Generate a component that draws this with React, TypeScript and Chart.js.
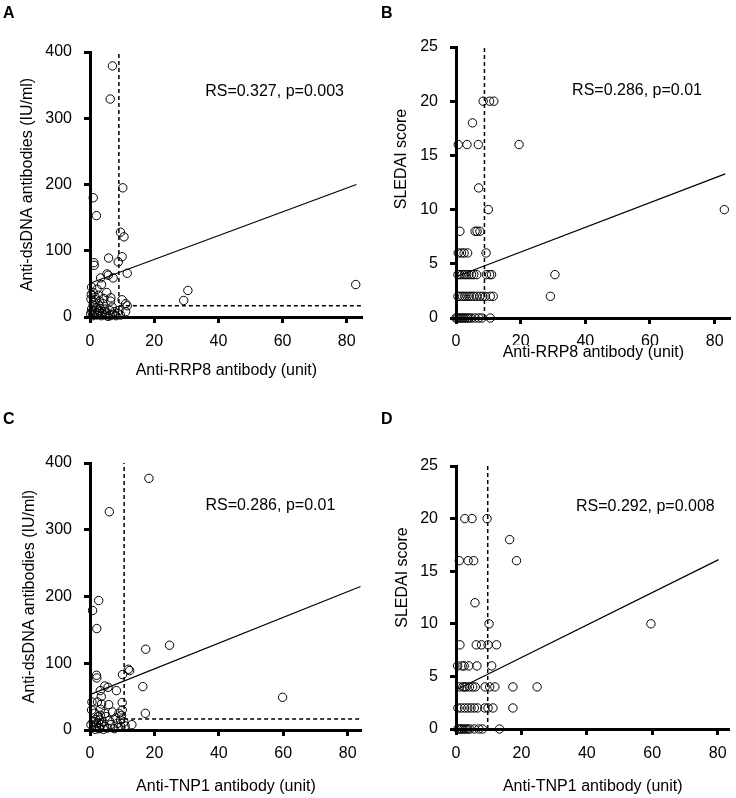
import React, { useEffect, useRef } from 'react';
import { Chart, registerables } from 'chart.js';

Chart.register(...registerables);

const FONT = '"Liberation Sans", Arial, Helvetica, sans-serif';

// ---------- Panel A: Anti-RRP8 vs Anti-dsDNA ----------
const aRRP8 = [7.0, 6.3, 1.0, 2.0, 10.2, 9.5, 10.6, 1.2, 1.3, 5.8, 10.0, 8.8, 11.6, 5.3, 5.7, 7.2, 3.3, 3.6, 5.2, 6.5, 6.4, 2.2, 10.0, 11.1, 11.6, 11.1, 29.2, 30.5, 82.8, 8.8, 0.5, 1.0, 1.6, 0.3, 2.6, 3.0, 4.1, 1.0, 2.0, 0.5, 1.5, 3.0, 4.6, 5.1, 6.1, 7.1, 2.1, 0.8, 3.5, 5.6, 8.1, 9.5, 0.2, 1.2, 2.8, 4.3, 6.9, 7.6, 3.8, 0.6, 2.4, 4.9, 6.3, 9.0, 1.8, 0.4, 3.2, 4.5, 2.7, 1.4];
const aDsDNA = [379, 329, 180, 153, 195, 128, 121, 82, 78, 89, 91, 83, 66, 65, 63, 59, 59, 49, 37, 29, 24, 42, 26, 20, 17, 8, 25, 40, 49, 5, 45, 37, 30, 27, 33, 24, 20, 18, 14, 12, 9, 8, 12, 6, 10, 4, 3, 2, 2, 1, 2, 3, 5, 22, 17, 28, 15, 8, 5, 8, 6, 3, 2, 10, 26, 34, 13, 8, 10, 4];
const aFitX = [0, 83];
const aFitY = [51, 200];
const aCut = [9.0, 17];

// ---------- Panel B: Anti-RRP8 vs SLEDAI ----------
const bRRP8 = [8.4, 10.4, 11.7, 5.1, 0.7, 3.4, 6.9, 19.5, 7.0, 10.0, 83.0, 1.2, 5.9, 6.5, 7.4, 0.7, 1.7, 2.5, 3.6, 9.3, 0.6, 1.2, 1.9, 2.6, 3.3, 4.0, 4.8, 5.5, 6.4, 9.4, 10.4, 11.0, 30.6, 0.6, 1.3, 2.0, 2.7, 3.4, 4.1, 4.8, 5.5, 6.4, 7.4, 8.3, 9.1, 10.6, 11.5, 29.2, 0, 0.4, 0.9, 1.4, 1.9, 2.4, 2.9, 3.5, 4.1, 4.8, 5.9, 7.0, 8.0, 10.6];
const bSLEDAI = [20, 20, 20, 18, 16, 16, 16, 16, 12, 10, 10, 8, 8, 8, 8, 6, 6, 6, 6, 6, 4, 4, 4, 4, 4, 4, 4, 4, 4, 4, 4, 4, 4, 2, 2, 2, 2, 2, 2, 2, 2, 2, 2, 2, 2, 2, 2, 2, 0, 0, 0, 0, 0, 0, 0, 0, 0, 0, 0, 0, 0, 0];
const bFitX = [0, 83.3];
const bFitY = [3.8, 13.3];
const bCut = [8.8];

// ---------- Panel C: Anti-TNP1 vs Anti-dsDNA ----------
const cTNP1 = [18.3, 6.0, 0.8, 2.7, 2.1, 17.3, 24.7, 11.9, 12.3, 10.1, 2.0, 2.1, 16.4, 59.8, 17.2, 8.2, 4.6, 5.6, 3.5, 3.2, 5.8, 2.3, 0.6, 10.0, 10.0, 3.6, 4.6, 3.3, 13.0, 10.9, 0.5, 1.5, 2.5, 3.0, 2.0, 1.0, 3.5, 4.5, 5.5, 6.5, 7.5, 8.5, 9.5, 9.8, 9.0, 8.0, 1.2, 2.8, 0.3, 4.0, 6.0, 3.0, 2.0, 5.0, 7.0, 9.6, 10.5, 8.8, 4.2, 1.8, 2.6, 3.2, 1.6];
const cDsDNA = [377, 327, 179, 194, 152, 121, 127, 91, 89, 83, 82, 78, 65, 49, 25, 59, 66, 64, 50, 59, 38, 42, 42, 41, 30, 39, 25, 31, 8, 6, 30, 25, 20, 15, 10, 12, 8, 5, 3, 8, 2, 10, 15, 22, 25, 18, 4, 2, 8, 12, 14, 3, 6, 20, 27, 5, 12, 4, 1, 16, 11, 22, 1];
const cFitX = [0, 84];
const cFitY = [53, 215];
const cCut = [10.6, 16.5];

// ---------- Panel D: Anti-TNP1 vs SLEDAI ----------
const dTNP1 = [2.7, 4.9, 9.5, 16.4, 1.0, 3.7, 5.4, 18.5, 5.8, 10.1, 59.6, 1.2, 6.2, 7.8, 9.8, 12.4, 0.5, 1.9, 2.5, 3.9, 6.4, 10.9, 1.1, 2.1, 2.6, 3.1, 4.1, 5.1, 5.9, 8.9, 10.3, 11.9, 17.4, 24.8, 0.6, 1.6, 2.6, 3.6, 4.6, 5.6, 6.6, 8.8, 9.8, 11.3, 17.4, 0.6, 1.2, 1.8, 2.4, 3.0, 3.6, 4.2, 5.6, 7.0, 8.1, 13.3];
const dSLEDAI = [20, 20, 20, 18, 16, 16, 16, 16, 12, 10, 10, 8, 8, 8, 8, 8, 6, 6, 6, 6, 6, 6, 4, 4, 4, 4, 4, 4, 4, 4, 4, 4, 4, 4, 2, 2, 2, 2, 2, 2, 2, 2, 2, 2, 2, 0, 0, 0, 0, 0, 0, 0, 0, 0, 0, 0];
const dFitX = [0, 80.3];
const dFitY = [3.7, 16.1];
const dCut = [9.7];

const xTicks = [0, 20, 40, 60, 80];
const dsdnaTicks = [0, 100, 200, 300, 400];
const sledaiTicks = [0, 5, 10, 15, 20, 25];

const xLabelRRP8 = 'Anti-RRP8 antibody (unit)';
const xLabelTNP1 = 'Anti-TNP1 antibody (unit)';
const yLabelDsDNA = 'Anti-dsDNA antibodies (IU/ml)';
const yLabelSLEDAI = 'SLEDAI score';

type Panel = {
  letter: string;
  xs: number[];
  ys: number[];
  fitX: number[];
  fitY: number[];
  cut: number[];
  stat: string;
  statAt: number[];
  xTitle: string;
  yTitle: string;
  yTicks: number[];
  xMax: number;
  left: number;
  top: number;
  w: number;
  h: number;
  yAxisW: number;
  padTop: number;
  padRight: number;
  xAxisH: number;
  xTickPad: number;
  xTitlePadBottom: number;
  yTitlePadTop: number;
  customYTitle?: number[];
  customXTitleY?: number;
  letterPos: number[];
};

const panels: Panel[] = [
  {
    letter: 'A', xs: aRRP8, ys: aDsDNA, fitX: aFitX, fitY: aFitY, cut: aCut,
    stat: 'RS=0.327, p=0.003', statAt: [57.5, 340],
    xTitle: xLabelRRP8, yTitle: yLabelDsDNA, yTicks: dsdnaTicks, xMax: 85,
    left: 0, top: 0, w: 368, h: 400, yAxisW: 90, padTop: 52, padRight: 4, xAxisH: 83,
    xTickPad: 9, xTitlePadBottom: 20, yTitlePadTop: 18, letterPos: [3, 18],
  },
  {
    letter: 'B', xs: bRRP8, ys: bSLEDAI, fitX: bFitX, fitY: bFitY, cut: bCut,
    stat: 'RS=0.286, p=0.01', statAt: [56, 21],
    xTitle: xLabelRRP8, yTitle: yLabelSLEDAI, yTicks: sledaiTicks, xMax: 85,
    left: 368, top: 0, w: 368, h: 400, yAxisW: 88, padTop: 47, padRight: 5, xAxisH: 82,
    xTickPad: 8, xTitlePadBottom: 38, yTitlePadTop: 18, customYTitle: [34, 159], customXTitleY: 353,
    letterPos: [13, 18],
  },
  {
    letter: 'C', xs: cTNP1, ys: cDsDNA, fitX: cFitX, fitY: cFitY, cut: cCut,
    stat: 'RS=0.286, p=0.01', statAt: [56, 336],
    xTitle: xLabelTNP1, yTitle: yLabelDsDNA, yTicks: dsdnaTicks, xMax: 84.4,
    left: 0, top: 400, w: 368, h: 398, yAxisW: 90, padTop: 63, padRight: 6.2, xAxisH: 68,
    xTickPad: 8, xTitlePadBottom: 1.4, yTitlePadTop: 20, letterPos: [3, 24],
  },
  {
    letter: 'D', xs: dTNP1, ys: dSLEDAI, fitX: dFitX, fitY: dFitY, cut: dCut,
    stat: 'RS=0.292, p=0.008', statAt: [57.9, 21.1],
    xTitle: xLabelTNP1, yTitle: yLabelSLEDAI, yTicks: sledaiTicks, xMax: 83.6,
    left: 368, top: 400, w: 368, h: 398, yAxisW: 88, padTop: 66, padRight: 6.6, xAxisH: 69,
    xTickPad: 9, xTitlePadBottom: 1.4, yTitlePadTop: 20, customYTitle: [35, 177.5], letterPos: [13, 24],
  },
];

const textPlugin = {
  id: 'panelText',
  afterDraw(chart: any, _args: any, opts: any) {
    const ctx = chart.ctx;
    const xs = chart.scales.x;
    const ys = chart.scales.y;
    const area = chart.chartArea;
    ctx.save();
    ctx.fillStyle = '#000';
    ctx.font = `bold 16px ${FONT}`;
    ctx.textAlign = 'left';
    ctx.textBaseline = 'alphabetic';
    ctx.fillText(opts.letter, opts.letterPos[0], opts.letterPos[1]);
    ctx.font = `16px ${FONT}`;
    ctx.textAlign = 'center';
    ctx.textBaseline = 'middle';
    ctx.fillText(opts.stat, xs.getPixelForValue(opts.statAt[0]), ys.getPixelForValue(opts.statAt[1]));
    if (opts.customXTitleY !== undefined) {
      const cx = (area.left + area.right) / 2;
      const w = ctx.measureText(opts.xTitle).width;
      ctx.fillStyle = '#fff';
      ctx.fillRect(cx - w / 2 - 3, opts.customXTitleY - 8, w + 6, 18);
      ctx.fillStyle = '#000';
      ctx.fillText(opts.xTitle, cx, opts.customXTitleY);
    }
    if (opts.customYTitle) {
      ctx.translate(opts.customYTitle[0], opts.customYTitle[1]);
      ctx.rotate(-Math.PI / 2);
      ctx.fillText(opts.yTitle, 0, 0);
    }
    ctx.restore();
  },
};

function makeChart(canvas: HTMLCanvasElement, p: Panel) {
  const yMax = p.yTicks[p.yTicks.length - 1];
  const datasets: any[] = [
    {
      data: p.xs.map((x, i) => ({ x, y: p.ys[i] })),
      showLine: false,
      pointRadius: 4.2,
      pointBorderWidth: 1,
      pointBorderColor: '#000',
      pointBackgroundColor: 'rgba(255,255,255,0)',
      clip: false,
    },
    {
      data: p.fitX.map((x, i) => ({ x, y: p.fitY[i] })),
      showLine: true,
      pointRadius: 0,
      borderColor: '#000',
      borderWidth: 1.2,
      clip: false,
    },
    {
      data: [{ x: p.cut[0], y: 0 }, { x: p.cut[0], y: yMax }],
      showLine: true,
      pointRadius: 0,
      borderColor: '#000',
      borderWidth: 1.5,
      borderDash: [4, 3],
      clip: false,
    },
  ];
  if (p.cut.length > 1) {
    datasets.push({
      data: [{ x: p.cut[0], y: p.cut[1] }, { x: p.xMax, y: p.cut[1] }],
      showLine: true,
      pointRadius: 0,
      borderColor: '#000',
      borderWidth: 1.5,
      borderDash: [4, 3],
      clip: false,
    });
  }
  const tickFont = { family: FONT, size: 16 };
  return new Chart(canvas, {
    type: 'scatter',
    data: { datasets },
    plugins: [textPlugin],
    options: {
      animation: false,
      responsive: false,
      devicePixelRatio: 1,
      events: [],
      layout: { padding: { left: 0, top: p.padTop, right: p.padRight, bottom: 0 } },
      plugins: {
        legend: { display: false },
        tooltip: { enabled: false },
        panelText: {
          letter: p.letter,
          letterPos: p.letterPos,
          stat: p.stat,
          statAt: p.statAt,
          customYTitle: p.customYTitle,
          customXTitleY: p.customXTitleY,
          xTitle: p.xTitle,
          yTitle: p.yTitle,
        },
      } as any,
      scales: {
        x: {
          type: 'linear',
          min: 0,
          max: p.xMax,
          afterBuildTicks: (s: any) => { s.ticks = xTicks.map((v) => ({ value: v })); },
          afterFit: (s: any) => { s.height = p.xAxisH; },
          border: { display: true, width: 3, color: '#000' },
          grid: { display: true, drawOnChartArea: false, drawTicks: true, tickLength: 6, tickWidth: 3, tickColor: '#000' },
          ticks: { color: '#000', font: tickFont, padding: p.xTickPad, autoSkip: false, maxRotation: 0 },
          title: {
            display: p.customXTitleY === undefined, text: p.xTitle, color: '#000', font: tickFont,
            padding: { top: 0, bottom: p.xTitlePadBottom },
          },
        },
        y: {
          type: 'linear',
          min: 0,
          max: yMax,
          afterBuildTicks: (s: any) => { s.ticks = p.yTicks.map((v) => ({ value: v })); },
          afterFit: (s: any) => { s.width = p.yAxisW; },
          border: { display: true, width: 3, color: '#000' },
          grid: { display: true, drawOnChartArea: false, drawTicks: true, tickLength: 6, tickWidth: 3, tickColor: '#000' },
          ticks: { color: '#000', font: tickFont, padding: 12, autoSkip: false },
          title: { display: !p.customYTitle, text: p.yTitle, color: '#000', font: tickFont, padding: { top: p.yTitlePadTop, bottom: 0 } },
        },
      },
    } as any,
  });
}

function PanelChart({ p }: { p: Panel }) {
  const ref = useRef<HTMLCanvasElement>(null);
  useEffect(() => {
    if (!ref.current) return;
    const chart = makeChart(ref.current, p);
    return () => chart.destroy();
  }, [p]);
  return (
    <canvas
      ref={ref}
      width={p.w}
      height={p.h}
      style={{ position: 'absolute', left: p.left, top: p.top, width: p.w, height: p.h, display: 'block' }}
    />
  );
}

export default function App() {
  return (
    <div style={{ position: 'absolute', left: 0, top: 0, width: 736, height: 798, overflow: 'hidden', background: '#fff' }}>
      {panels.map((p) => (
        <PanelChart key={p.letter} p={p} />
      ))}
    </div>
  );
}
